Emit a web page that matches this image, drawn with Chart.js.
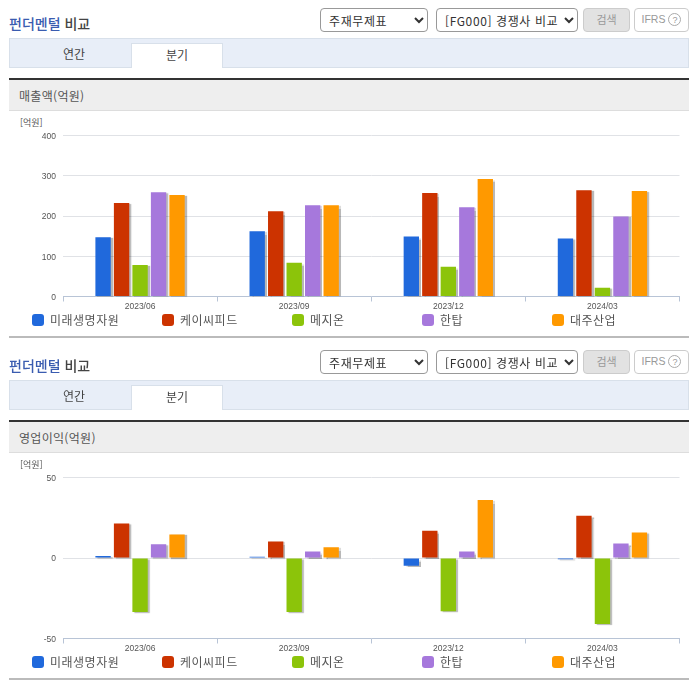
<!DOCTYPE html>
<html lang="ko">
<head>
<meta charset="utf-8">
<title>펀더멘털 비교</title>
<script src="https://cdn.jsdelivr.net/npm/chart.js@4"></script>
<style>
  html, body { margin: 0; padding: 0; background: #fff; }
  body { width: 696px; height: 684px; position: relative; overflow: hidden;
         font-family: "Noto Sans CJK KR", sans-serif; color: #555; }
  .block { position: absolute; left: 0; width: 696px; height: 342px; }
  .block > * { position: absolute; }
  .title { left: 9px; top: 12px; font-size: 14px; line-height: 22px; font-weight: 500; color: #444; }
  .title b { color: #3a5cb0; font-weight: 500; }
  select { height: 24px; font-size: 12px; font-family: inherit; color: #333; background: #fff;
           border: 1px solid #999; border-radius: 4px; padding: 0 0 0 4px; letter-spacing: .6px; }
  .s1 { left: 320px; top: 8px; width: 108px; }
  .s2 { left: 436px; top: 8px; width: 142px; }
  .btn { top: 8px; height: 22px; line-height: 21px; text-align: center; font-size: 11px; border-radius: 4px; color: #999; }
  .search { left: 583px; width: 45px; background: #e2e2e2; border: 1px solid #ccc; }
  .ifrs { left: 634px; width: 53px; background: #fff; border: 1px solid #ccc; font-family: "Liberation Sans", sans-serif; font-size: 10.5px; }
  .ifrs i { display: inline-block; width: 13px; height: 13px; line-height: 12px; border: 1px solid #aaa; border-radius: 50%;
            font-style: normal; font-size: 9px; margin-left: 3px; box-sizing: border-box; }
  .tabs { left: 9px; top: 38px; width: 678px; height: 28px; background: #e8eef8; border: 1px solid #d8e0ea; }
  .tab { top: 43px; height: 25px; line-height: 21px; text-align: center; font-size: 12px; color: #444; }
  .tab1 { left: 29px; width: 90px; }
  .tab2 { left: 131px; width: 90px; height: 24px; background: #fff; border: 1px solid #d8e0ea; border-bottom: 0; }
  .head { left: 9px; top: 78px; width: 680px; height: 30px; background: #eee; border-top: 2px solid #333;
          border-bottom: 1px solid #ddd; line-height: 31px; font-size: 12px; color: #555; }
  .head span { margin-left: 10px; letter-spacing: .3px; }
  .unit { left: 20px; top: 117px; font-size: 9px; line-height: 12px; color: #555; }
  canvas { left: 0; top: 110px; }
  .foot { left: 9px; top: 336px; width: 680px; height: 2px; background: #bbb; }
  .legend { left: 0; top: 312px; width: 696px; height: 16px; }
  .legend div { position: absolute; top: 0; font-size: 12px; line-height: 16px; letter-spacing: .5px; white-space: nowrap; }
  .legend u { position: absolute; left: 0; top: 2px; width: 12px; height: 12px; border-radius: 3px; }
  .legend em { position: absolute; left: 18px; font-style: normal; }
</style>
</head>
<body>
<script>
const periods = ["2023/06", "2023/09", "2023/12", "2024/03"];
const companies = ["미래생명자원", "케이씨피드", "메지온", "한탑", "대주산업"];
const colors = ["#2069dc", "#cc3300", "#8cc40a", "#a678dc", "#ff9900"];

// 매출액(억원), one list per company
const salesMirae = [147, 162, 149, 144];
const salesKc = [232, 212, 257, 264];
const salesMezzion = [78, 84, 74, 22];
const salesHantop = [259, 227, 222, 199];
const salesDaejoo = [252, 227, 292, 262];

// 영업이익(억원)
const profitMirae = [1.2, 0.7, -4.8, -0.8];
const profitKc = [21.5, 10.3, 17, 26.3];
const profitMezzion = [-33.6, -33.6, -33, -41];
const profitHantop = [8.5, 4, 4, 9];
const profitDaejoo = [14.6, 6.6, 36, 15.8];

const salesTicks = { min: 0, max: 400, step: 100 };
const profitTicks = { min: -50, max: 50, step: 50 };

// grey drop shadow behind the bars
const barShadow = {
  id: "barShadow",
  beforeDatasetsDraw(chart) {
    const c = chart.ctx;
    c.save();
    c.shadowColor = "rgba(0,0,0,0.28)";
    c.shadowOffsetX = 2;
    c.shadowOffsetY = 1;
    c.shadowBlur = 1;
  },
  afterDatasetsDraw(chart) {
    chart.ctx.restore();
  }
};

function addBlock(top, title, series, ticks, chartTop, chartBottom) {
  const block = document.createElement("div");
  block.className = "block";
  block.style.top = top + "px";
  block.innerHTML =
    '<div class="title"><b>펀더멘털</b> 비교</div>' +
    '<select class="s1"><option>주재무제표</option></select>' +
    '<select class="s2"><option>[FG000] 경쟁사 비교</option></select>' +
    '<div class="btn search">검색</div>' +
    '<div class="btn ifrs">IFRS<i>?</i></div>' +
    '<div class="tabs"></div>' +
    '<div class="tab tab1">연간</div>' +
    '<div class="tab tab2">분기</div>' +
    '<div class="head"><span>' + title + '</span></div>' +
    '<div class="unit">[억원]</div>' +
    '<canvas width="696" height="202" style="width:696px;height:202px"></canvas>' +
    '<div class="legend"></div>' +
    '<div class="foot"></div>';
  document.body.appendChild(block);

  const legend = block.querySelector(".legend");
  companies.forEach((name, i) => {
    const item = document.createElement("div");
    item.style.left = (32 + i * 130) + "px";
    item.innerHTML = '<u style="background:' + colors[i] + '"></u><em>' + name + '</em>';
    legend.appendChild(item);
  });

  new Chart(block.querySelector("canvas"), {
    type: "bar",
    plugins: [barShadow],
    data: {
      labels: periods,
      datasets: series.map((values, i) => ({
        label: companies[i],
        data: values,
        backgroundColor: colors[i],
        borderWidth: 0,
        categoryPercentage: 0.6,
        barPercentage: 0.83
      }))
    },
    options: {
      responsive: false,
      animation: false,
      devicePixelRatio: 1,
      layout: { padding: { top: chartTop, right: 16.5, left: 0, bottom: 0 } },
      plugins: { legend: { display: false }, tooltip: { enabled: false } },
      scales: {
        x: {
          afterFit: s => { s.height = 202 - chartBottom; },
          grid: { drawOnChartArea: false, tickLength: 5, tickColor: "#b8c4d6", offset: true },
          border: { color: "#b8c4d6" },
          ticks: { padding: 0, maxRotation: 0, color: "#555", font: { family: "Liberation Sans", size: 8.5 } }
        },
        y: {
          min: ticks.min,
          max: ticks.max,
          afterFit: s => { s.width = 63; },
          grid: { color: "#e0e2e6", drawTicks: false },
          border: { display: false },
          ticks: { stepSize: ticks.step, padding: 7, labelOffset: 1, color: "#555", font: { family: "Liberation Sans", size: 8.5 } }
        }
      }
    }
  });
}

addBlock(0, "매출액(억원)", [salesMirae, salesKc, salesMezzion, salesHantop, salesDaejoo], salesTicks, 25.5, 186.5);
addBlock(342, "영업이익(억원)", [profitMirae, profitKc, profitMezzion, profitHantop, profitDaejoo], profitTicks, 25.5, 186.5);
</script>
</body>
</html>
